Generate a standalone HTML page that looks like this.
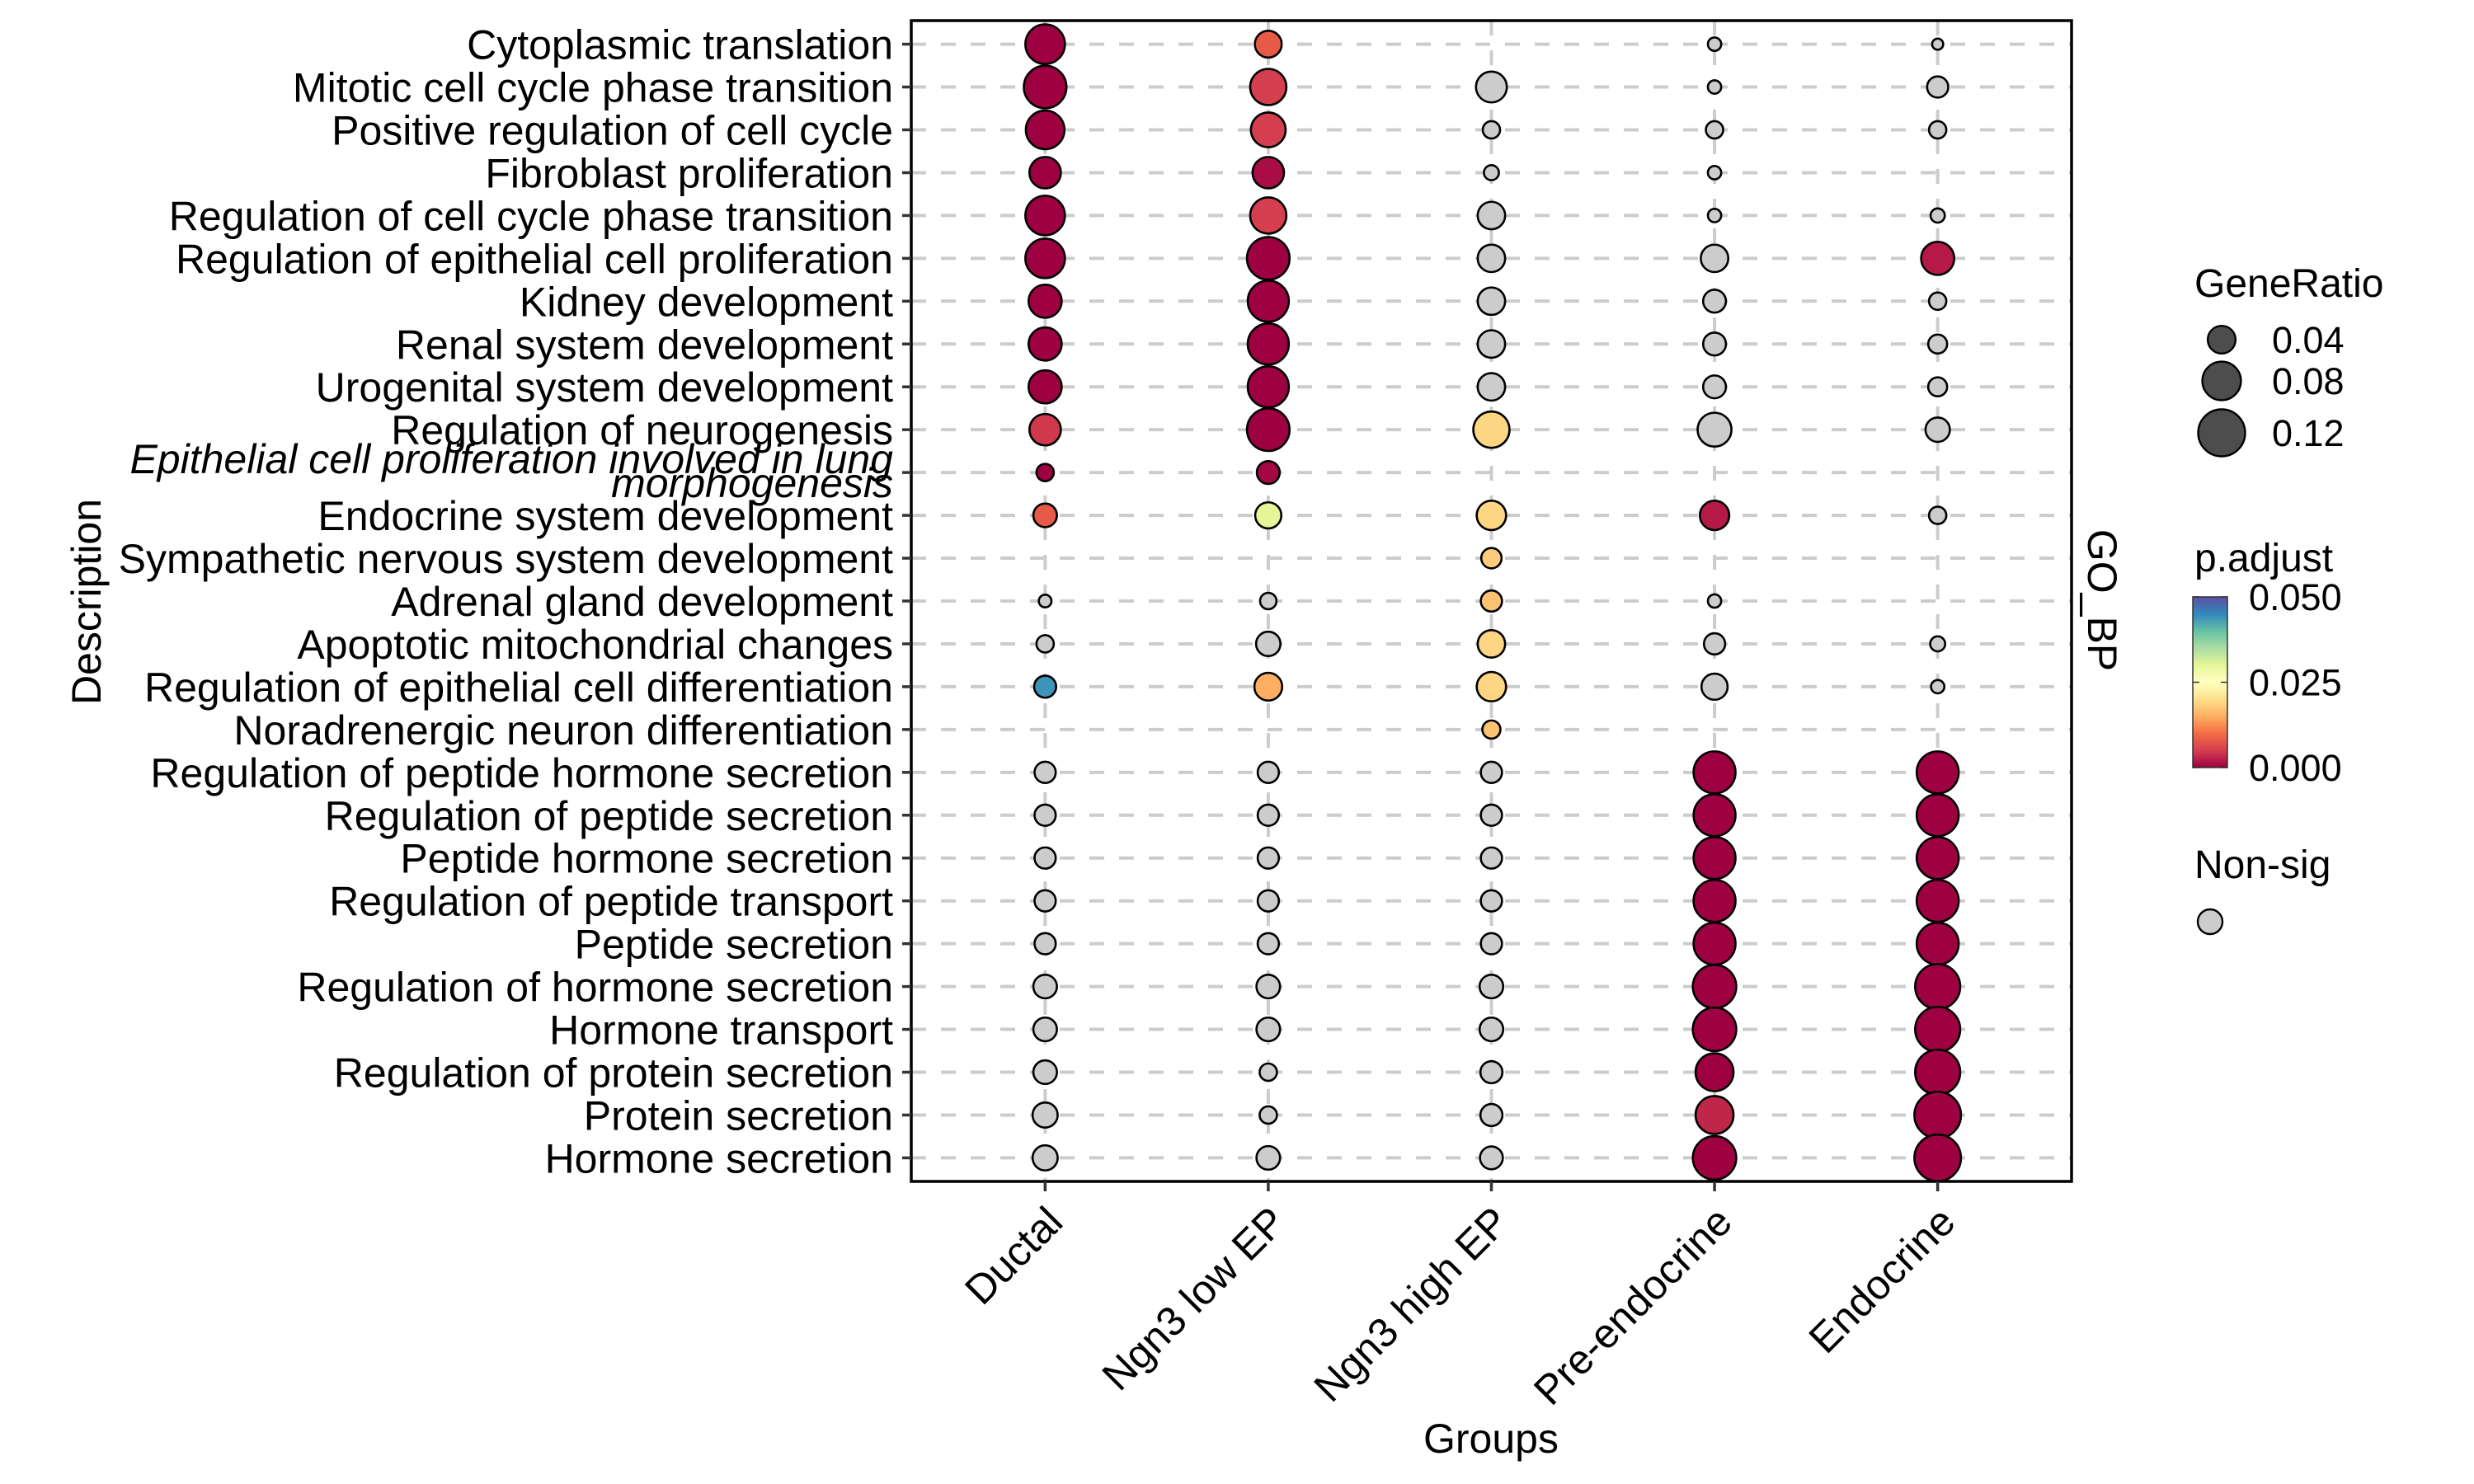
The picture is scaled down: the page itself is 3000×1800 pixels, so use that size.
<!DOCTYPE html>
<html><head><meta charset="utf-8"><style>
html,body{margin:0;padding:0;background:#fff;}
svg{display:block;font-family:"Liberation Sans",Arial,sans-serif;}
</style></head><body>
<svg id="chart" width="3000" height="1800" viewBox="0 0 3000 1800" xmlns="http://www.w3.org/2000/svg">
<rect x="0" y="0" width="3000" height="1800" fill="#fff"/>
<g id="grid"></g>
<g id="dots"></g>
<rect x="1105" y="25" width="1407" height="1408" fill="none" stroke="#000" stroke-width="3.5"/>
<g id="yaxis"></g>
<g id="xaxis"></g>
<text x="1808" y="1762" font-size="50" text-anchor="middle">Groups</text>
<text transform="translate(122,730) rotate(-90)" font-size="50" text-anchor="middle">Description</text>
<text transform="translate(2532,728) rotate(90)" font-size="50" text-anchor="middle">GO_BP</text>
<g id="legend"></g>
</svg>
<script>
const terms = ["Cytoplasmic translation","Mitotic cell cycle phase transition","Positive regulation of cell cycle","Fibroblast proliferation","Regulation of cell cycle phase transition","Regulation of epithelial cell proliferation","Kidney development","Renal system development","Urogenital system development","Regulation of neurogenesis","Epithelial cell proliferation involved in lung morphogenesis","Endocrine system development","Sympathetic nervous system development","Adrenal gland development","Apoptotic mitochondrial changes","Regulation of epithelial cell differentiation","Noradrenergic neuron differentiation","Regulation of peptide hormone secretion","Regulation of peptide secretion","Peptide hormone secretion","Regulation of peptide transport","Peptide secretion","Regulation of hormone secretion","Hormone transport","Regulation of protein secretion","Protein secretion","Hormone secretion"];
const groups = ["Ductal","Ngn3 low EP","Ngn3 high EP","Pre-endocrine","Endocrine"];
const ratioDuctal = [0.084,0.098,0.080,0.052,0.084,0.084,0.058,0.058,0.058,0.052,0.0137,0.028,null,0.0059,0.0137,0.024,null,0.022,0.022,0.022,0.022,0.022,0.028,0.028,0.028,0.032,0.032];
const ratioLow = [0.037,0.070,0.064,0.052,0.070,0.098,0.091,0.091,0.091,0.098,0.026,0.035,null,0.012,0.030,0.040,null,0.022,0.022,0.022,0.022,0.022,0.028,0.028,0.0137,0.0137,0.028];
const ratioHigh = [null,0.050,0.0137,0.0095,0.039,0.039,0.039,0.039,0.039,0.070,null,0.045,0.020,0.022,0.039,0.045,0.0153,0.022,0.022,0.022,0.022,0.022,0.028,0.028,0.024,0.024,0.026];
const ratioPre = [0.0069,0.0069,0.0137,0.0069,0.0069,0.039,0.026,0.026,0.026,0.061,null,0.045,null,0.0069,0.022,0.035,null,0.095,0.095,0.095,0.095,0.095,0.102,0.102,0.077,0.077,0.102];
const ratioEndo = [0.0038,0.022,0.0137,null,0.0082,0.058,0.0137,0.017,0.017,0.030,null,0.0137,null,null,0.0095,0.0069,null,0.095,0.095,0.095,0.095,0.095,0.110,0.110,0.110,0.118,0.118];
const padjDuctal = [0,0,0,0,0,0,0,0,0,0.0045,0,0.008,null,null,null,0.044,null,null,null,null,null,null,null,null,null,null,null];
const padjLow = [0.008,0.005,0.005,0.001,0.005,0,0,0,0,0,0.0005,0.030,null,null,null,0.015,null,null,null,null,null,null,null,null,null,null,null];
const padjHigh = [null,null,null,null,null,null,null,null,null,0.019,null,0.019,0.018,0.017,0.019,0.019,0.017,null,null,null,null,null,null,null,null,null,null];
const padjPre = [null,null,null,null,null,null,null,null,null,null,null,0.002,null,null,null,null,null,0,0,0,0,0,0,0,0,0.003,0];
const padjEndo = [null,null,null,null,null,0.002,null,null,null,null,null,null,null,null,null,null,null,0,0,0,0,0,0,0,0,0,0];
const legendRatios = [0.04,0.08,0.12];
const legendRatioLabels = ["0.04","0.08","0.12"];
const colorTicks = [0.05,0.025,0];
const colorTickLabels = ["0.050","0.025","0.000"];

const ratios=[ratioDuctal,ratioLow,ratioHigh,ratioPre,ratioEndo];
const padjs=[padjDuctal,padjLow,padjHigh,padjPre,padjEndo];
const NS="http://www.w3.org/2000/svg";
const X0=1105,X1=2512,Y0=25,Y1=1433;
const colStep=(X1-X0)/(groups.length-1+1.2);
function xScale(i){return X0+colStep*(0.6+i);}
const rowStep=(Y1-Y0)/(terms.length-1+1.1);
function yScale(i){return Y0+rowStep*(0.55+i);}
function rScale(v){return Math.sqrt(20+6600*v);}
const spectral=["#9E0142","#D53E4F","#F46D43","#FDAE61","#FEE08B","#FFFFBF","#E6F598","#ABDDA4","#66C2A5","#3288BD","#5E4FA2"];
function hex(c){return [parseInt(c.slice(1,3),16),parseInt(c.slice(3,5),16),parseInt(c.slice(5,7),16)];}
function cScale(p){let t=Math.max(0,Math.min(1,p/0.05))*(spectral.length-1);let i=Math.min(Math.floor(t),spectral.length-2);let f=t-i;let a=hex(spectral[i]),b=hex(spectral[i+1]);return "rgb("+a.map((v,k)=>Math.round(v+(b[k]-v)*f)).join(",")+")";}
function el(tag,attrs,parent){const e=document.createElementNS(NS,tag);for(const k in attrs)e.setAttribute(k,attrs[k]);parent.appendChild(e);return e;}

const grid=document.getElementById('grid');
terms.forEach((t,i)=>{const l=el('line',{x1:X0,x2:X1,y1:yScale(i),y2:yScale(i),stroke:"#CCCCCC","stroke-width":4,"stroke-dasharray":"18,18"},grid);

});
groups.forEach((g,i)=>{const l=el('line',{x1:xScale(i),x2:xScale(i),y1:Y0,y2:Y1,stroke:"#CCCCCC","stroke-width":4,"stroke-dasharray":"18,18"},grid);

});

const dots=document.getElementById('dots');
groups.forEach((g,gi)=>{terms.forEach((t,ti)=>{const v=ratios[gi][ti];if(v==null)return;const p=padjs[gi][ti];
const c=el('circle',{cx:xScale(gi),cy:yScale(ti),r:rScale(v),fill:p==null?"#CCCCCC":cScale(p),stroke:"#000","stroke-width":2.6},dots);

});});

const ya=document.getElementById('yaxis');
terms.forEach((t,i)=>{const y=yScale(i);
const tk=el('line',{x1:1094,x2:1105,y1:y,y2:y,stroke:"#333","stroke-width":3.5},ya);


if(t.indexOf("lung morphogenesis")>=0){
const a=el('text',{x:1083,y:y+1,"font-size":50,"text-anchor":"end","font-style":"italic"},ya);a.textContent="Epithelial cell proliferation involved in lung";


const b=el('text',{x:1083,y:y+30,"font-size":50,"text-anchor":"end","font-style":"italic"},ya);b.textContent="morphogenesis";


}else{
const tx=el('text',{x:1083,y:y+18,"font-size":50,"text-anchor":"end"},ya);tx.textContent=t;

}
});
const xa=document.getElementById('xaxis');
groups.forEach((g,i)=>{const x=xScale(i);
const tk=el('line',{x1:x,x2:x,y1:1433,y2:1445,stroke:"#333","stroke-width":3.5},xa);


const tx=el('text',{transform:"translate("+(x+24)+",1485) rotate(-45)","font-size":50,"text-anchor":"end"},xa);tx.textContent=g;

});

const lg=document.getElementById('legend');
const t1=el('text',{x:2661,y:360,"font-size":48},lg);t1.textContent="GeneRatio";


const legY=[412,462,525];
legendRatios.forEach((v,i)=>{const c=el('circle',{cx:2694,cy:legY[i],r:rScale(v),fill:"#4D4D4D",stroke:"#000","stroke-width":2.4},lg);


const tx=el('text',{x:2755,y:legY[i]+16,"font-size":45},lg);tx.textContent=legendRatioLabels[i];

});
const t2=el('text',{x:2661,y:693,"font-size":48},lg);t2.textContent="p.adjust";


const defs=el('defs',{},lg);const grad=el('linearGradient',{id:"spec",x1:0,y1:1,x2:0,y2:0},defs);
spectral.forEach((c,i)=>el('stop',{offset:(i/(spectral.length-1)),"stop-color":c},grad));
const CB0=724,CB1=931;
const bar=el('rect',{x:2659,y:CB0,width:42,height:CB1-CB0,fill:"url(#spec)",stroke:"#333","stroke-width":1.5},lg);


colorTicks.forEach((v,i)=>{const y=CB1-(v/0.05)*(CB1-CB0);
el('line',{x1:2659,x2:2667,y1:y,y2:y,stroke:"#333","stroke-width":1.5},lg);
el('line',{x1:2693,x2:2701,y1:y,y2:y,stroke:"#333","stroke-width":1.5},lg);
const tx=el('text',{x:2727,y:y+16,"font-size":45},lg);tx.textContent=colorTickLabels[i];

});
const t3=el('text',{x:2661,y:1065,"font-size":48},lg);t3.textContent="Non-sig";


const ns=el('circle',{cx:2680,cy:1118,r:15,fill:"#CCCCCC",stroke:"#000","stroke-width":2.4},lg);


</script>
</body></html>
